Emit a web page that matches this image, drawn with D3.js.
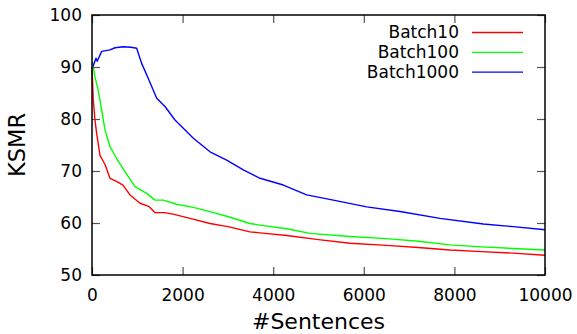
<!DOCTYPE html>
<html>
<head>
<meta charset="utf-8">
<script src="https://cdn.jsdelivr.net/npm/d3@7"></script>
<style>
  body { margin: 0; background: #fff; }
  text { font-family: 'DejaVu Sans', sans-serif; }
</style>
</head>
<body>
<div id="chart"></div>
<script>
//
// KSMR vs #Sentences, three batch sizes
//
const seriesNames = ['Batch10', 'Batch100', 'Batch1000']
const seriesColours = ['#ff0000', '#00ff00', '#0000ff']

const batch10X = [0, 28, 66, 103, 177, 290, 397, 540, 684, 839, 1060, 1250, 1390, 1600, 1790, 2163, 2605, 3000, 3488, 3709, 4300, 5000, 5695, 6500, 7200, 7903, 8600, 9300, 10000]
const batch10Y = [90, 83.6, 79.8, 77.2, 73, 71.2, 68.6, 68, 67.3, 65.4, 63.8, 63.2, 62.0, 62.0, 61.7, 60.9, 59.9, 59.3, 58.3, 58.1, 57.6, 56.8, 56.1, 55.7, 55.3, 54.8, 54.5, 54.2, 53.8]

const batch100X = [10, 66, 130, 177, 287, 397, 544, 728, 949, 1207, 1390, 1575, 1869, 2237, 2605, 2973, 3488, 3709, 4300, 4812, 5695, 6500, 7200, 7903, 8600, 9300, 10000]
const batch100Y = [91, 88.1, 85.8, 83.6, 77.9, 74.7, 72.4, 69.9, 67.0, 65.7, 64.4, 64.4, 63.6, 63.0, 62.2, 61.3, 59.9, 59.6, 58.9, 58.0, 57.4, 57.0, 56.5, 55.8, 55.4, 55.1, 54.8]

const batch1000X = [22, 88, 115, 213, 397, 508, 691, 860, 986, 1096, 1243, 1428, 1611, 1832, 2237, 2605, 2973, 3340, 3709, 4223, 4739, 5327, 6064, 6799, 7682, 8638, 9300, 10000]
const batch1000Y = [90.1, 91.7, 91.1, 93.0, 93.3, 93.7, 93.9, 93.8, 93.6, 90.7, 87.8, 84.0, 82.4, 79.8, 76.3, 73.7, 72.1, 70.2, 68.6, 67.3, 65.4, 64.4, 63.1, 62.2, 60.9, 59.8, 59.3, 58.7]

const xTicks = [0, 2000, 4000, 6000, 8000, 10000]
const yTicks = [50, 60, 70, 80, 90, 100]

const series = [
  { name: seriesNames[0], colour: seriesColours[0], x: batch10X, y: batch10Y },
  { name: seriesNames[1], colour: seriesColours[1], x: batch100X, y: batch100Y },
  { name: seriesNames[2], colour: seriesColours[2], x: batch1000X, y: batch1000Y }
]

const width = 577
const height = 334
const margin = { top: 15, right: 32, bottom: 59, left: 92 }
const plotW = width - margin.left - margin.right
const plotH = height - margin.top - margin.bottom

const svg = d3.select('#chart')
  .append('svg')
  .attr('width', width)
  .attr('height', height)

const g = svg.append('g')
  .attr('transform', 'translate(' + margin.left + ',' + margin.top + ')')

const x = d3.scaleLinear().domain([0, 10000]).range([0, plotW])
const y = d3.scaleLinear().domain([50, 100]).range([plotH, 0])

//
// Lines
//
const line = d3.line()
  .x(d => x(d[0]))
  .y(d => y(d[1]))

series.forEach(function (s) {
  g.append('path')
    .datum(d3.zip(s.x, s.y))
    .attr('fill', 'none')
    .attr('stroke', s.colour)
    .attr('stroke-width', 1.4)
    .attr('stroke-linejoin', 'round')
    .attr('d', line)
})

//
// Axes with inward ticks, mirrored on top and right
//
const tickLen = 8
function styleAxis (sel) {
  sel.select('.domain').remove()
  sel.selectAll('.tick line').attr('stroke', '#555').attr('stroke-width', 1.2)
  sel.selectAll('.tick text')
    .style('font-family', "'DejaVu Sans', sans-serif")
    .style('font-size', '17px')
    .attr('fill', '#000')
}

g.append('g')
  .attr('transform', 'translate(0,' + plotH + ')')
  .call(d3.axisBottom(x).tickValues(xTicks).tickSizeInner(-tickLen).tickSizeOuter(0).tickPadding(14).tickFormat(d3.format('d')))
  .call(styleAxis)

g.append('g')
  .call(d3.axisTop(x).tickValues(xTicks).tickSizeInner(-tickLen).tickSizeOuter(0).tickFormat(''))
  .call(styleAxis)

g.append('g')
  .call(d3.axisLeft(y).tickValues(yTicks).tickSizeInner(-tickLen).tickSizeOuter(0).tickPadding(10))
  .call(styleAxis)

g.append('g')
  .attr('transform', 'translate(' + plotW + ',0)')
  .call(d3.axisRight(y).tickValues(yTicks).tickSizeInner(-tickLen).tickSizeOuter(0).tickFormat(''))
  .call(styleAxis)

// border
g.append('rect')
  .attr('width', plotW)
  .attr('height', plotH)
  .attr('fill', 'none')
  .attr('stroke', '#000')
  .attr('stroke-width', 1.5)

//
// Axis titles
//
svg.append('text')
  .attr('x', margin.left + plotW / 2)
  .attr('y', 329)
  .attr('text-anchor', 'middle')
  .style('font-size', '22px')
  .text('#Sentences')

svg.append('text')
  .attr('transform', 'translate(25,' + (margin.top + plotH / 2) + ') rotate(-90)')
  .attr('text-anchor', 'middle')
  .style('font-size', '22.5px')
  .text('KSMR')

//
// Legend
//
const legend = svg.append('g')
series.forEach(function (s, i) {
  const ly = 32.5 + i * 19.8
  legend.append('text')
    .attr('x', 459)
    .attr('y', ly)
    .attr('dy', '0.35em')
    .attr('text-anchor', 'end')
    .style('font-size', '17px')
    .text(s.name)
  legend.append('line')
    .attr('x1', 472)
    .attr('x2', 523)
    .attr('y1', ly)
    .attr('y2', ly)
    .attr('stroke', s.colour)
    .attr('stroke-width', 1.3)
})
</script>
</body>
</html>
